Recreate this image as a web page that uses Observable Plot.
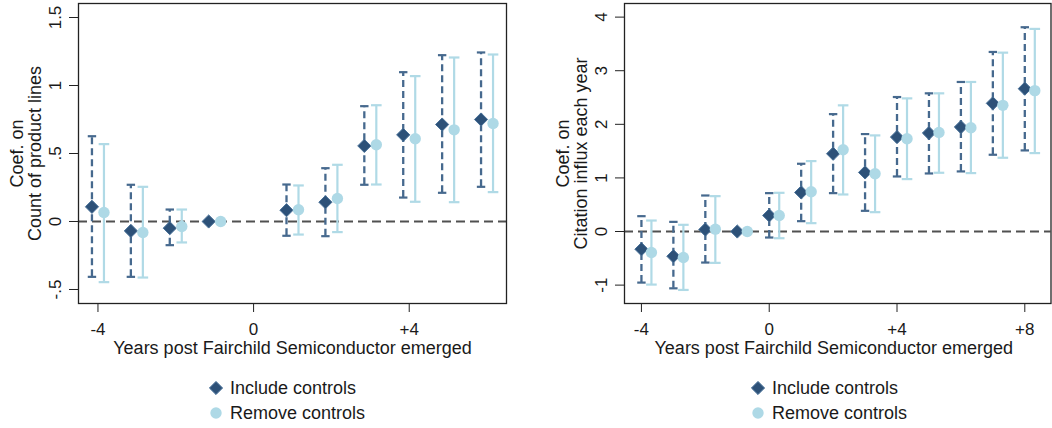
<!DOCTYPE html>
<html><head><meta charset="utf-8">
<script src="https://cdn.jsdelivr.net/npm/d3@7"></script>
<script src="https://cdn.jsdelivr.net/npm/@observablehq/plot@0.6"></script>
<style>
body{margin:0;background:#fff;font-family:"Liberation Sans",Arial,sans-serif;color:#1a1a1a;}
#wrap{position:relative;width:1052px;height:428px;overflow:hidden;background:#fff;}
.panel{position:absolute;top:0;}
.legend{position:absolute;top:375.5px;font-size:18px;line-height:1;color:#1a1a1a;}
.legend .row{display:flex;align-items:center;height:25px;}
.legend .row span{margin-left:7px;}
</style></head><body><div id="wrap"></div>
<script>
// ---- shared
const seriesNames = ["Include controls", "Remove controls"];
const xTitle = "Years post Fairchild Semiconductor emerged";

// ---- left panel data
const years1 = [-4, -3, -2, -1, 1, 2, 3, 4, 5, 6];
const inc1   = [0.108, -0.069, -0.049, 0, 0.083, 0.142, 0.556, 0.637, 0.713, 0.750];
const inc1Lo = [-0.407, -0.407, -0.174, null, -0.105, -0.108, 0.270, 0.176, 0.211, 0.255];
const inc1Hi = [0.627, 0.270, 0.088, null, 0.272, 0.392, 0.848, 1.098, 1.223, 1.243];
const rem1   = [0.066, -0.081, -0.037, 0, 0.086, 0.169, 0.564, 0.608, 0.674, 0.721];
const rem1Lo = [-0.446, -0.412, -0.154, null, -0.096, -0.078, 0.272, 0.145, 0.142, 0.216];
const rem1Hi = [0.569, 0.255, 0.088, null, 0.265, 0.417, 0.855, 1.069, 1.206, 1.228];
const xTicks1 = [-4, 0, 4];
const xTickLabels1 = ["-4", "0", "+4"];
const yTicks1 = [-0.5, 0, 0.5, 1, 1.5];
const yTickLabels1 = ["-.5", "0", ".5", "1", "1.5"];
const yTitle1 = "Coef. on\nCount of product lines";

// ---- right panel data
const years2 = [-4, -3, -2, -1, 0, 1, 2, 3, 4, 5, 6, 7, 8];
const inc2   = [-0.330, -0.461, 0.037, 0, 0.300, 0.729, 1.451, 1.102, 1.762, 1.837, 1.949, 2.391, 2.665];
const inc2Lo = [-0.953, -1.060, -0.579, null, -0.112, 0.193, 0.716, 0.386, 1.027, 1.083, 1.121, 1.432, 1.513];
const inc2Hi = [0.286, 0.180, 0.672, null, 0.716, 1.264, 2.190, 1.818, 2.509, 2.578, 2.790, 3.350, 3.811];
const rem2   = [-0.392, -0.486, 0.044, 0, 0.300, 0.741, 1.526, 1.077, 1.731, 1.849, 1.936, 2.354, 2.628];
const rem2Lo = [-0.990, -1.090, -0.585, null, -0.125, 0.156, 0.691, 0.361, 0.978, 1.096, 1.090, 1.376, 1.463];
const rem2Hi = [0.205, 0.125, 0.660, null, 0.722, 1.314, 2.354, 1.793, 2.484, 2.578, 2.790, 3.337, 3.780];
const xTicks2 = [-4, 0, 4, 8];
const xTickLabels2 = ["-4", "0", "+4", "+8"];
const yTicks2 = [-1, 0, 1, 2, 3, 4];
const yTickLabels2 = ["-1", "0", "1", "2", "3", "4"];
const yTitle2 = "Coef. on\nCitation influx each year";

// ---- styles
const INC_FILL = "#2d5178", INC_EDGE = "#4a7299", INC_LINE = "#46698e";
const REM_FILL = "#aed9e6", REM_LINE = "#b0dae6";
const TXT = "#1a1a1a";
const capSymbol = {draw(ctx, size) { const w = Math.sqrt(size / Math.PI); ctx.moveTo(-w, 0); ctx.lineTo(w, 0); }};

function panel(o) {
  const rows = o.years.map((yr, i) => ({year: yr, inc: o.inc[i], incLo: o.incLo[i], incHi: o.incHi[i],
                                        rem: o.rem[i], remLo: o.remLo[i], remHi: o.remHi[i]}));
  const ci = rows.filter(d => d.incLo != null);
  return Plot.plot({
    width: o.width, height: 360,
    marginTop: 3, marginBottom: 57, marginLeft: o.marginLeft, marginRight: o.marginRight,
    x: {domain: o.xDomain},
    y: {domain: o.yDomain},
    style: {fontFamily: "Liberation Sans, Arial, sans-serif", fontSize: "17px", color: TXT, background: "white", overflow: "visible"},
    marks: [
      Plot.ruleY([0], {stroke: "#505050", strokeWidth: 2, strokeDasharray: "9,5"}),
      Plot.ruleX(ci, {x: "year", y1: "incLo", y2: "incHi", dx: o.dxInc, stroke: INC_LINE, strokeWidth: 2.3, strokeDasharray: "7,4"}),
      Plot.dot(ci, {x: "year", y: "incLo", dx: o.dxInc, symbol: capSymbol, r: 4.2, fill: "none", stroke: INC_LINE, strokeWidth: 2.2}),
      Plot.dot(ci, {x: "year", y: "incHi", dx: o.dxInc, symbol: capSymbol, r: 4.2, fill: "none", stroke: INC_LINE, strokeWidth: 2.2}),
      Plot.ruleX(ci, {x: "year", y1: "remLo", y2: "remHi", dx: o.dxRem, stroke: REM_LINE, strokeWidth: 2.2}),
      Plot.dot(ci, {x: "year", y: "remLo", dx: o.dxRem, symbol: capSymbol, r: 5.3, fill: "none", stroke: REM_LINE, strokeWidth: 2.2}),
      Plot.dot(ci, {x: "year", y: "remHi", dx: o.dxRem, symbol: capSymbol, r: 5.3, fill: "none", stroke: REM_LINE, strokeWidth: 2.2}),
      Plot.dot(rows, {x: "year", y: "inc", dx: o.dxInc, symbol: "diamond2", r: 5.95, fill: INC_FILL, stroke: INC_EDGE, strokeWidth: 1}),
      Plot.dot(rows, {x: "year", y: "rem", dx: o.dxRem, symbol: "circle", r: 5.7, fill: REM_FILL, stroke: "none"}),
      Plot.axisY({ticks: o.yTicks, tickSize: 9, tickFormat: () => "", label: null, stroke: "#222"}),
      Plot.axisX({ticks: o.xTicks, tickSize: 9, tickFormat: () => "", label: null, stroke: "#222"}),
      Plot.text(o.yTicks, {y: d => d, text: (d, i) => o.yTickLabels[i], frameAnchor: "left", dx: -23, rotate: -90,
                           textAnchor: "middle", lineAnchor: "middle", fontSize: 17, fill: TXT}),
      Plot.text(o.xTicks, {x: d => d, text: (d, i) => o.xTickLabels[i], frameAnchor: "bottom", dy: 26.5,
                           textAnchor: "middle", lineAnchor: "middle", fontSize: 17, fill: TXT}),
      Plot.text([o.yTitle], {text: d => d, frameAnchor: "left", dx: -52, rotate: -90, textAnchor: "middle",
                             lineAnchor: "middle", lineHeight: 1.0, fontSize: 18, fill: TXT}),
      Plot.text([xTitle], {text: d => d, frameAnchor: "bottom", dx: o.titleDx, dy: 45, textAnchor: "middle",
                           lineAnchor: "middle", fontSize: 18, fill: TXT}),
      Plot.frame({stroke: "#222", strokeWidth: 1.3})
    ]
  });
}

function legend(left) {
  const div = document.createElement("div");
  div.className = "legend";
  div.style.left = left + "px";
  const syms = [
    `<svg width="14" height="14"><polygon points="7,0.4 13.6,7 7,13.6 0.4,7" fill="${INC_FILL}" stroke="${INC_EDGE}" stroke-width="1"/></svg>`,
    `<svg width="14" height="14"><circle cx="7" cy="7" r="5.7" fill="${REM_FILL}"/></svg>`
  ];
  div.innerHTML = seriesNames.map((n, i) => `<div class="row">${syms[i]}<span>${n}</span></div>`).join("");
  return div;
}

const wrap = document.getElementById("wrap");
const p1 = panel({years: years1, inc: inc1, incLo: inc1Lo, incHi: inc1Hi, rem: rem1, remLo: rem1Lo, remHi: rem1Hi,
  xDomain: [-4.5, 6.5], yDomain: [-0.603, 1.603], xTicks: xTicks1, xTickLabels: xTickLabels1,
  yTicks: yTicks1, yTickLabels: yTickLabels1, yTitle: yTitle1,
  width: 520, marginLeft: 78, marginRight: 14, dxInc: -6, dxRem: 6, titleDx: 0});
p1.classList.add("panel"); p1.style.left = "0px";
const p2 = panel({years: years2, inc: inc2, incLo: inc2Lo, incHi: inc2Hi, rem: rem2, remLo: rem2Lo, remHi: rem2Hi,
  xDomain: [-4.53, 8.82], yDomain: [-1.343, 4.254], xTicks: xTicks2, xTickLabels: xTickLabels2,
  yTicks: yTicks2, yTickLabels: yTickLabels2, yTitle: yTitle2,
  width: 532, marginLeft: 104, marginRight: 1.5, dxInc: 0, dxRem: 10, titleDx: -4});
p2.classList.add("panel"); p2.style.left = "520px";
wrap.appendChild(p1);
wrap.appendChild(p2);
wrap.appendChild(legend(209));
wrap.appendChild(legend(751));
</script>
</body></html>
